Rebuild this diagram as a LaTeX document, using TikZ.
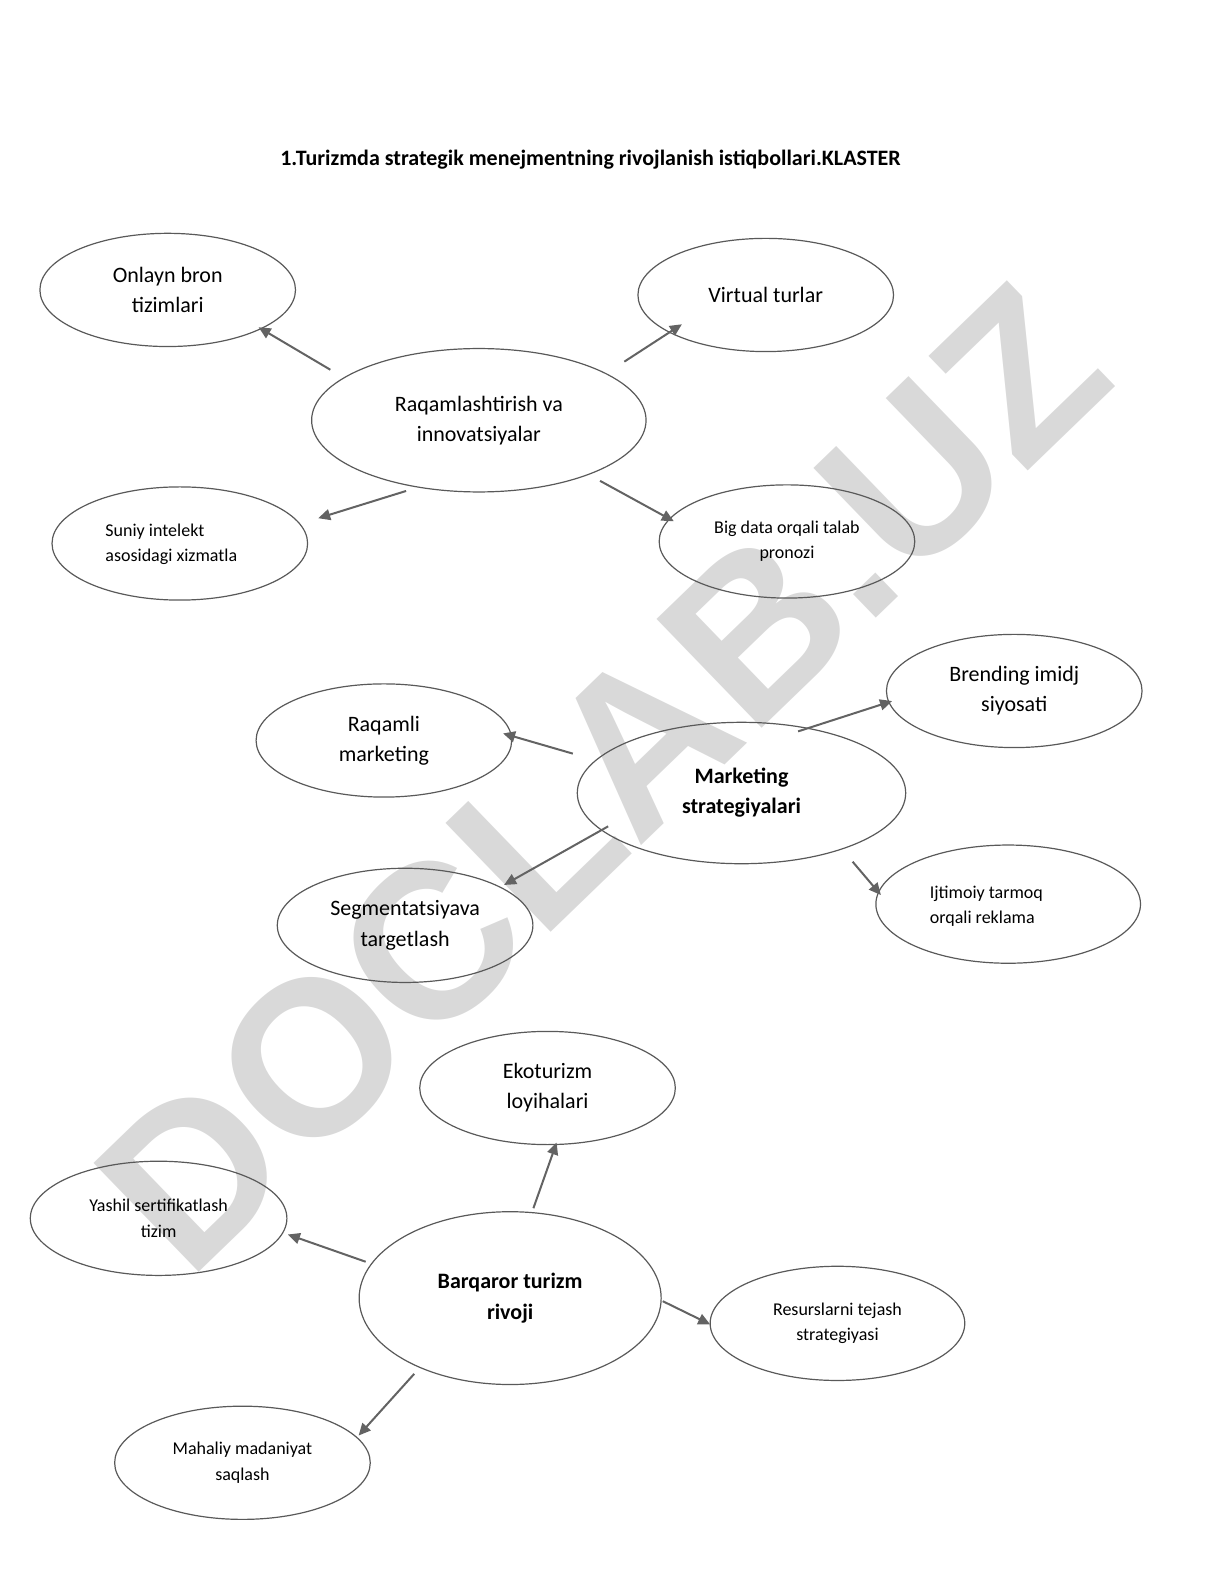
\documentclass[tikz,border=0pt]{standalone}
\usepackage{fontspec}
\setmainfont{Carlito}
\newfontfamily\wmfont{Liberation Sans}
\usetikzlibrary{shapes.geometric,arrows.meta}
\definecolor{elc}{HTML}{595959}
\definecolor{arc}{HTML}{636363}
\definecolor{wmc}{HTML}{D9D9D9}
\tikzset{
  ell/.style={ellipse, draw=elc, line width=0.6pt, inner sep=0pt, align=center, minimum width=127.8pt, minimum height=56.6pt},
  big/.style={font=\fontsize{11}{15.1}\selectfont},
  small/.style={font=\fontsize{9}{12.6}\selectfont},
  bigb/.style={font=\fontsize{11}{15.1}\selectfont\bfseries},
  txtnode/.style={inner sep=0pt, align=left, anchor=west, font=\fontsize{9}{12.6}\selectfont},
  arr/.style={draw=arc, line width=1pt, -{Triangle[length=6pt,width=5.5pt]}}
}
\begin{document}
\begin{tikzpicture}[x=0.5051pt,y=-0.5051pt]
\useasboundingbox (0,0) rectangle (1211.7,1568);
% watermark
\node[text=wmc, font=\wmfont\fontsize{110}{110}\selectfont\bfseries, rotate=44, inner sep=0pt] (wm) at (596,770) {DOCLAB.UZ};
% title
\node[font=\fontsize{11}{13}\selectfont\bfseries, inner sep=0pt] (title) at (584.5,158) {1.Turizmda strategik menejmentning rivojlanish istiqbollari.KLASTER};
% cluster 1
\node[ell, big] (onlayn) at (166,287) {Onlayn bron\\tizimlari};
\node[ell, big] (virtual) at (758,292) {Virtual turlar};
\node[ell, big, minimum width=167.2pt, minimum height=71.7pt] (raqam) at (474,416) {Raqamlashtirish va\\innovatsiyalar};
\node[ell] (suniy) at (178,538) {};
\node[txtnode] (suniyt) at (104,539) {Suniy intelekt\\asosidagi xizmatla};
\node[ell, small] (bigdata) at (779,536) {Big data orqali talab\\pronozi};
% cluster 2
\node[ell, big] (brend) at (1004,684) {Brending imidj\\siyosati};
\node[ell, big] (raqamli) at (380,733) {Raqamli\\marketing};
\node[ell, bigb, minimum width=164.2pt, minimum height=70.7pt] (market) at (734,785) {Marketing\\strategiyalari};
\node[ell, minimum width=132.3pt, minimum height=59.1pt] (ijtim) at (998,895) {};
\node[txtnode] (ijtimt) at (920,897) {Ijtimoiy tarmoq\\orqali reklama};
\node[ell, big, minimum height=57.1pt] (segment) at (401,916) {Segmentatsiyava\\targetlash};
% cluster 3
\node[ell, big] (eko) at (542,1077) {Ekoturizm\\loyihalari};
\node[ell, small, minimum width=128.3pt, minimum height=57.1pt] (yashil) at (157,1206) {Yashil sertifikatlash\\tizim};
\node[ell, bigb, minimum width=151pt, minimum height=86.4pt] (barq) at (505,1285) {Barqaror turizm\\rivoji};
\node[ell, small, minimum width=127.3pt, minimum height=57.1pt] (resurs) at (829,1310) {Resurslarni tejash\\strategiyasi};
\node[ell, small] (mahal) at (240,1448) {Mahaliy madaniyat\\saqlash};
% arrow end points
\coordinate (a1s) at (327,366); \coordinate (a1e) at (256,324);
\coordinate (a2s) at (618,358); \coordinate (a2e) at (675,321);
\coordinate (a3s) at (402,486); \coordinate (a3e) at (315,513);
\coordinate (a4s) at (594,476); \coordinate (a4e) at (667,516);
\coordinate (b1s) at (567,746); \coordinate (b1e) at (498,726);
\coordinate (b2s) at (790,724); \coordinate (b2e) at (883,694);
\coordinate (b3s) at (602,818); \coordinate (b3e) at (499,876);
\coordinate (b4s) at (844,853); \coordinate (b4e) at (872,886);
\coordinate (c1s) at (528,1196); \coordinate (c1e) at (551,1131);
\coordinate (c2s) at (362,1249); \coordinate (c2e) at (285,1222);
\coordinate (c3s) at (656,1288); \coordinate (c3e) at (703,1311);
\coordinate (c4s) at (410,1360); \coordinate (c4e) at (355,1421);
\draw[arr] (a1s) -- (a1e);
\draw[arr] (a2s) -- (a2e);
\draw[arr] (a3s) -- (a3e);
\draw[arr] (a4s) -- (a4e);
\draw[arr] (b1s) -- (b1e);
\draw[arr] (b2s) -- (b2e);
\draw[arr] (b3s) -- (b3e);
\draw[arr] (b4s) -- (b4e);
\draw[arr] (c1s) -- (c1e);
\draw[arr] (c2s) -- (c2e);
\draw[arr] (c3s) -- (c3e);
\draw[arr] (c4s) -- (c4e);
\end{tikzpicture}
\end{document}
